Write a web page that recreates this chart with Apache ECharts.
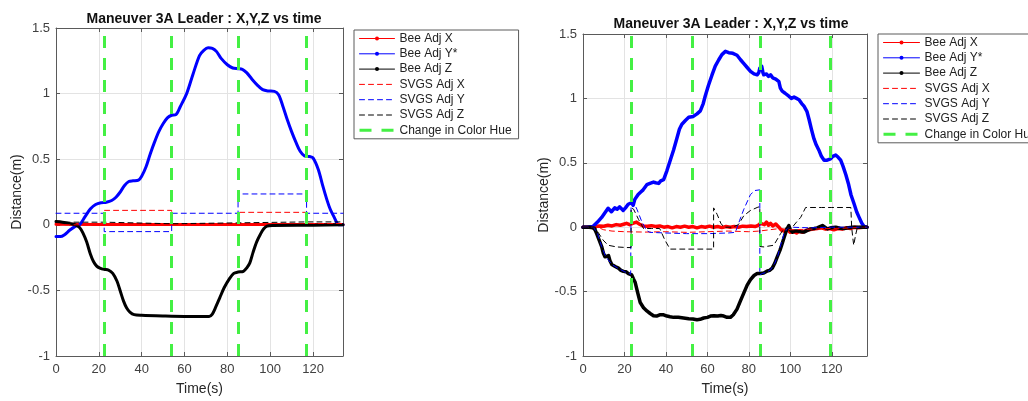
<!DOCTYPE html>
<html>
<head>
<meta charset="utf-8">
<script src="https://cdn.jsdelivr.net/npm/echarts@6/dist/echarts.min.js"></script>
<style>
  html, body { margin: 0; padding: 0; background: #fff; }
  #chart { width: 1028px; height: 401px; }
</style>
</head>
<body>
<div id="chart"></div>
<script>
// names / ranges
var titleText = 'Maneuver 3A Leader : X,Y,Z vs time';
var names = ['Bee Adj X', 'Bee Adj Y*', 'Bee Adj Z', 'SVGS Adj X', 'SVGS Adj Y', 'SVGS Adj Z', 'Change in Color Hue'];
var yMin = -1, yMax = 1.5, yStep = 0.5;
var xStep = 20, xMaxL = 134, xMaxR = 137;

// color hue change times (s)
var hueL = [22.5, 54, 85, 117];
var hueR = [23.2, 52.9, 85.5, 119.3];

// ---- left panel (time, metres) ----
var lBeeX = [[0,0.005],[20,0.003],[40,0.002],[60,0.002],[80,0.002],[100,0.002],[120,0.002],[134,0.002]];
var lBeeY = [[0,-0.09],[2,-0.09],[4,-0.075],[6.5,-0.04],[9,-0.012],[11,0.0],[13.5,0.06],[16,0.12],[18.5,0.155],
  [21,0.168],[23.5,0.172],[26,0.185],[28,0.21],[30,0.25],[32,0.3],[34,0.33],[36,0.335],[38.5,0.34],[40,0.37],
  [42,0.44],[44,0.54],[46,0.63],[48,0.71],[50,0.77],[52,0.815],[54,0.835],[56,0.84],[58,0.9],[61,1.0],[64,1.15],
  [67,1.29],[69,1.33],[71,1.35],[73,1.345],[75,1.32],[77,1.27],[80,1.22],[82.5,1.195],[85,1.19],[87,1.185],
  [89,1.16],[91.5,1.11],[94,1.065],[96.5,1.03],[99,1.02],[102,1.017],[104,0.99],[106,0.9],[108,0.8],[110,0.71],
  [112,0.63],[114,0.56],[116,0.525],[118.5,0.52],[120,0.51],[122.5,0.42],[124.5,0.3],[126.5,0.19],[128,0.12],
  [129.5,0.07],[131,0.02],[132,0.0],[134,0.0]];
var lBeeZ = [[0,0.025],[3,0.02],[6,0.01],[9,0.0],[11,-0.02],[12.5,-0.06],[14.3,-0.13],[16,-0.22],[17.5,-0.28],
  [19,-0.315],[20.5,-0.33],[22.5,-0.34],[24.5,-0.345],[26.5,-0.37],[28.5,-0.43],[30,-0.505],[31.5,-0.58],
  [33,-0.635],[34.5,-0.665],[36.5,-0.685],[40,-0.69],[50,-0.695],[60,-0.698],[71.5,-0.698],[73,-0.68],
  [74.5,-0.63],[76.5,-0.555],[78.5,-0.48],[81,-0.41],[83,-0.37],[85,-0.36],[87.5,-0.355],[89,-0.33],
  [90.5,-0.29],[92,-0.21],[93.7,-0.13],[95.5,-0.07],[97,-0.03],[98.5,-0.01],[101,-0.005],[120,-0.003],[134,0]];
var lSvgsX = [[0,0],[22.5,0],[22.5,0.11],[54,0.11],[54,0.0],[85,0.0],[85,0.095],[117,0.095],[117,0.01],[134,0.01]];
var lSvgsY = [[0,0.088],[22.5,0.088],[22.5,-0.052],[54,-0.052],[54,0.088],[85,0.088],[85,0.235],[117,0.235],
  [117,0.088],[134,0.088]];
var lSvgsZ = [[0,0.02],[22.5,0.02],[22.5,0.008],[54,0.008],[54,0.022],[117,0.022],[134,0.022]];

// ---- right panel ----
var rBeeX = [[0,0],[4,0],[6,0.005],[8,0.01],[10,0.008],[12,0.015],[14,0.01],[16,0.02],[18,0.015],[20,0.025],
  [21,0.03],[22.5,0.02],[24,0.03],[25.8,0.04],[27,0.025],[29,0.01],[31,0.008],[33,0.012],[35,0.005],[37,0.01],
  [39,0.0],[41,0.005],[43,-0.005],[45,0.005],[47,0.0],[49,0.008],[51,0.0],[53,0.005],[55,-0.005],[57,0.005],
  [59,0.0],[61,0.008],[63,0.0],[65,0.005],[67,-0.003],[69,0.005],[71,0.0],[73,0.005],[75,0.0],[77,0.008],
  [79,0.005],[81,0.01],[83,0.005],[84.5,0.015],[85.6,0.03],[86.5,0.045],[87.5,0.02],[88.5,0.04],[89.5,0.015],
  [90.5,0.03],[91.5,0.01],[93,0.025],[94.5,0.0],[95.5,-0.02],[97,-0.03],[98.5,-0.02],[100,-0.04],[101.5,-0.035],
  [103,-0.045],[104.5,-0.03],[106,-0.04],[107.5,-0.025],[109,-0.02],[111,-0.015],[113,-0.01],[115,-0.005],
  [117,-0.015],[119,-0.01],[121,-0.02],[123,-0.01],[125,-0.015],[127,-0.005],[129,-0.01],[131,0.0],
  [133,-0.005],[135,0.0],[137,0]];
var rBeeY = [[0,0],[2,0],[4.8,0.005],[7,0.04],[9,0.076],[10.5,0.11],[12.1,0.147],[13.7,0.12],[15.3,0.15],
  [16.5,0.14],[17.7,0.158],[19.4,0.13],[20.5,0.15],[21.8,0.178],[23.4,0.19],[24.2,0.17],[25,0.216],[26.6,0.254],
  [28,0.275],[29,0.29],[30.8,0.33],[32.3,0.34],[34,0.35],[35,0.345],[36.5,0.34],[37.5,0.36],[38.9,0.37],
  [40.5,0.44],[42.1,0.52],[43.7,0.6],[45.3,0.69],[46.5,0.76],[47.7,0.8],[49.5,0.83],[51,0.853],[53.2,0.86],
  [55,0.88],[56.6,0.903],[58,0.96],[59,1.02],[60.5,1.1],[62.2,1.18],[63.8,1.25],[65.5,1.3],[67,1.34],
  [68.7,1.365],[70.3,1.355],[72.3,1.35],[74.3,1.335],[76,1.3],[77.6,1.27],[79.2,1.24],[80.8,1.21],[82.5,1.19],
  [84,1.183],[84.8,1.2],[85.3,1.234],[86.2,1.25],[86.8,1.2],[87.2,1.183],[88.5,1.19],[89.5,1.17],[90.5,1.183],
  [91.5,1.16],[93,1.15],[94.5,1.13],[95.2,1.08],[96.1,1.056],[97.5,1.04],[99.3,1.017],[100.5,1.0],
  [101.8,1.01],[103,1.0],[104.2,0.99],[105.5,0.96],[106.6,0.94],[108,0.9],[109,0.84],[110.2,0.76],
  [111.4,0.687],[112.5,0.64],[113.8,0.598],[115,0.55],[116.3,0.52],[117.8,0.52],[119.4,0.53],[120.5,0.55],
  [121.9,0.56],[123,0.545],[124.3,0.52],[125.5,0.47],[126.8,0.407],[128,0.34],[129.3,0.25],[130.8,0.18],
  [132,0.12],[133.2,0.076],[134.5,0.03],[135.6,0.005],[137,0]];
var rBeeZ = [[0,0],[3,0],[4.8,-0.005],[5.8,-0.02],[6.6,-0.05],[7.8,-0.1],[9,-0.15],[9.8,-0.2],[10.6,-0.23],
  [11.5,-0.235],[12.3,-0.22],[13,-0.26],[13.9,-0.29],[15.5,-0.305],[17.1,-0.318],[18.3,-0.335],[19.5,-0.343],
  [20.7,-0.345],[21.9,-0.36],[23.5,-0.37],[24.3,-0.4],[25.2,-0.43],[26.4,-0.51],[27.6,-0.585],[29.2,-0.625],
  [30.8,-0.65],[32.4,-0.67],[34,-0.687],[35.5,-0.69],[37,-0.68],[38.9,-0.68],[40.5,-0.69],[42,-0.695],
  [43.7,-0.7],[46,-0.7],[48.5,-0.705],[51,-0.71],[53,-0.712],[55,-0.718],[56.5,-0.715],[58.2,-0.705],
  [60,-0.7],[61.5,-0.69],[63.1,-0.687],[65,-0.69],[66.5,-0.685],[67.9,-0.69],[69.5,-0.7],[71.1,-0.7],
  [72.5,-0.68],[74.3,-0.636],[76,-0.57],[77.6,-0.51],[79.2,-0.45],[80.8,-0.407],[82.5,-0.375],[84,-0.36],
  [85.5,-0.36],[87.2,-0.355],[88.9,-0.34],[90,-0.335],[91.3,-0.318],[92.5,-0.28],[93.7,-0.23],[95,-0.18],
  [96.1,-0.127],[97,-0.08],[97.8,-0.04],[98.5,-0.01],[99.3,0.013],[100,-0.02],[101,-0.038],[102,-0.03],
  [103.4,-0.03],[105,-0.035],[106.6,-0.038],[108.2,-0.025],[109.8,-0.013],[111.5,-0.01],[113,-0.005],
  [114.3,0.005],[115.5,0.013],[116.7,0.0],[117.9,-0.013],[119.5,-0.005],[121.9,0],[124,-0.008],[126,-0.01],
  [128,-0.005],[130,0],[133,0],[137,0]];
var rSvgsX = [[0,0],[7,0],[10,-0.02],[14,-0.03],[20,-0.035],[30,-0.038],[40,-0.035],[50,-0.04],[60,-0.035],
  [70,-0.03],[80,-0.035],[85,-0.03],[90,-0.02],[95,-0.01],[100,-0.02],[110,-0.015],[120,-0.01],[130,-0.005],[137,0]];
var rSvgsY = [[0,0],[5,0],[7,-0.05],[9,-0.15],[11,-0.23],[14,-0.29],[17,-0.32],[20,-0.345],[23,-0.365],
  [23.2,-0.365],[23.2,0.19],[24.5,0.19],[26,0.14],[28.2,0.05],[30.6,-0.025],[32.2,-0.04],[40,-0.045],[50,-0.05],
  [60,-0.05],[70,-0.045],[73.5,-0.04],[75.5,0.05],[77.6,0.14],[80.8,0.254],[83,0.285],[85.3,0.29],[85.3,-0.37],
  [86.5,-0.36],[88.5,-0.35],[90.5,-0.33],[92.5,-0.28],[94,-0.22],[95.5,-0.13],[97,-0.05],[98.5,-0.01],[100,0],
  [110,-0.005],[120,0],[130,0],[137,0]];
var rSvgsZ = [[0,0],[6,0],[7.3,-0.04],[9.7,-0.1],[12.1,-0.14],[16.1,-0.153],[21,-0.158],[23.2,-0.158],[23.2,0.15],
  [24.4,0.14],[26.8,0.06],[29.2,-0.01],[33,-0.01],[37,-0.01],[39.5,-0.1],[42,-0.17],[50,-0.17],[63,-0.17],
  [63,0.15],[64.7,0.1],[66.5,0.03],[68,0.0],[72,0.0],[75,0.02],[77.6,0.09],[80.8,0.13],[84,0.153],[85.3,0.16],
  [85.3,-0.15],[87.2,-0.153],[92,-0.14],[93.5,-0.1],[95.3,-0.05],[97,-0.01],[101,0],[103,0.04],[105,0.076],
  [107.4,0.153],[115,0.153],[120,0.153],[129.2,0.153],[129.6,0.0],[130.2,-0.09],[130.6,-0.14],[131.5,-0.06],
  [132.4,0],[137,0]];

var red = '#ff0000', blue = '#0000ff', black = '#000000', green = '#44f044';
var axisCol = '#5a5a5a', gridCol = '#e3e3e3', labelCol = '#404040';
var dashS = [5, 4], dashHue = [12, 10];

var chart = echarts.init(document.getElementById('chart'));

function axes(g, xMax) {
  var tick = { inside: true, length: 4, lineStyle: { color: axisCol } };
  var line = { onZero: false, lineStyle: { color: axisCol, width: 1 } };
  var xs = [
    { type: 'value', gridIndex: g, min: 0, max: xMax, interval: xStep, position: 'bottom',
      name: 'Time(s)', nameLocation: 'middle', nameGap: 26,
      nameTextStyle: { fontSize: 14, color: '#262626' },
      axisLine: line, axisTick: tick,
      axisLabel: { fontSize: 13, color: labelCol, margin: 7, showMaxLabel: false },
      splitLine: { show: true, lineStyle: { color: gridCol } } },
    { type: 'value', gridIndex: g, min: 0, max: xMax, interval: xStep, position: 'top',
      axisLine: line, axisTick: tick, axisLabel: { show: false }, splitLine: { show: false } }
  ];
  var ys = [
    { type: 'value', gridIndex: g, min: yMin, max: yMax, interval: yStep, position: 'left',
      name: 'Distance(m)', nameLocation: 'middle', nameGap: 32,
      nameTextStyle: { fontSize: 14, color: '#262626' },
      axisLine: line, axisTick: tick,
      axisLabel: { fontSize: 13, color: labelCol, margin: 6 },
      splitLine: { show: true, lineStyle: { color: gridCol } } },
    { type: 'value', gridIndex: g, min: yMin, max: yMax, interval: yStep, position: 'right',
      axisLine: line, axisTick: tick, axisLabel: { show: false }, splitLine: { show: false } }
  ];
  return { xs: xs, ys: ys };
}

function ln(name, ax, data, color, width, type, smooth) {
  return {
    name: name, type: 'line', xAxisIndex: ax, yAxisIndex: ax, data: data,
    symbol: 'circle', symbolSize: 3, showSymbol: false, smooth: smooth || false,
    lineStyle: { color: color, width: width, type: type, cap: 'round', join: 'round' },
    itemStyle: { color: color },
    silent: true
  };
}

function hue(ax, times) {
  return {
    name: names[6], type: 'line', xAxisIndex: ax, yAxisIndex: ax, data: [],
    symbol: 'none', lineStyle: { color: green, width: 3, type: dashHue }, itemStyle: { color: green },
    markLine: {
      silent: true, symbol: 'none', label: { show: false },
      lineStyle: { color: green, width: 3, type: dashHue },
      data: times.map(function (t) { return { xAxis: t }; })
    }
  };
}

var legendItems = names.map(function (n, i) {
  if (i < 3) return { name: n, lineStyle: { width: 1 } };
  if (i < 6) return { name: n, lineStyle: { width: 1, type: dashS }, itemStyle: { opacity: 0 } };
  return { name: n, lineStyle: { width: 3, type: dashHue }, itemStyle: { opacity: 0 } };
});

function legend(left, top, w) {
  return {
    orient: 'vertical', left: left, top: top, itemWidth: w, itemHeight: 5, itemGap: 0.3,
    padding: [1, 7, 1, 4], borderColor: axisCol, borderWidth: 1, selectedMode: false,
    textStyle: { fontSize: 12, lineHeight: 15, color: '#222' },
    data: legendItems
  };
}

var aL = axes(0, xMaxL), aR = axes(1, xMaxR);

var option = {
  animation: false,
  backgroundColor: '#fff',
  textStyle: { fontFamily: 'Liberation Sans, Arial, sans-serif' },
  title: [
    { text: titleText, left: 199, top: 7, textAlign: 'center',
      textStyle: { fontSize: 14, fontWeight: 'bold', color: '#111' } },
    { text: titleText, left: 726, top: 12, textAlign: 'center',
      textStyle: { fontSize: 14, fontWeight: 'bold', color: '#111' } }
  ],
  legend: [legend(354, 30, 35), legend(878, 34, 36)],
  grid: [
    { left: 56, top: 28, width: 287, height: 331 },
    { left: 583, top: 34, width: 284, height: 327 }
  ],
  xAxis: [aL.xs[0], aL.xs[1], aR.xs[0], aR.xs[1]],
  yAxis: [aL.ys[0], aL.ys[1], aR.ys[0], aR.ys[1]],
  series: [
    ln(names[0], 0, lBeeX, red, 3, 'solid', false),
    ln(names[1], 0, lBeeY, blue, 3, 'solid', 0.3),
    ln(names[2], 0, lBeeZ, black, 3, 'solid', 0.3),
    ln(names[3], 0, lSvgsX, red, 1, dashS, false),
    ln(names[4], 0, lSvgsY, blue, 1, dashS, false),
    ln(names[5], 0, lSvgsZ, black, 1, dashS, false),
    hue(0, hueL),
    ln(names[0], 2, rBeeX, red, 3.5, 'solid', false),
    ln(names[1], 2, rBeeY, blue, 3.5, 'solid', false),
    ln(names[2], 2, rBeeZ, black, 3.5, 'solid', false),
    ln(names[3], 2, rSvgsX, red, 1, dashS, false),
    ln(names[4], 2, rSvgsY, blue, 1, dashS, false),
    ln(names[5], 2, rSvgsZ, black, 1, dashS, false),
    hue(2, hueR)
  ]
};

chart.setOption(option);
</script>
</body>
</html>
